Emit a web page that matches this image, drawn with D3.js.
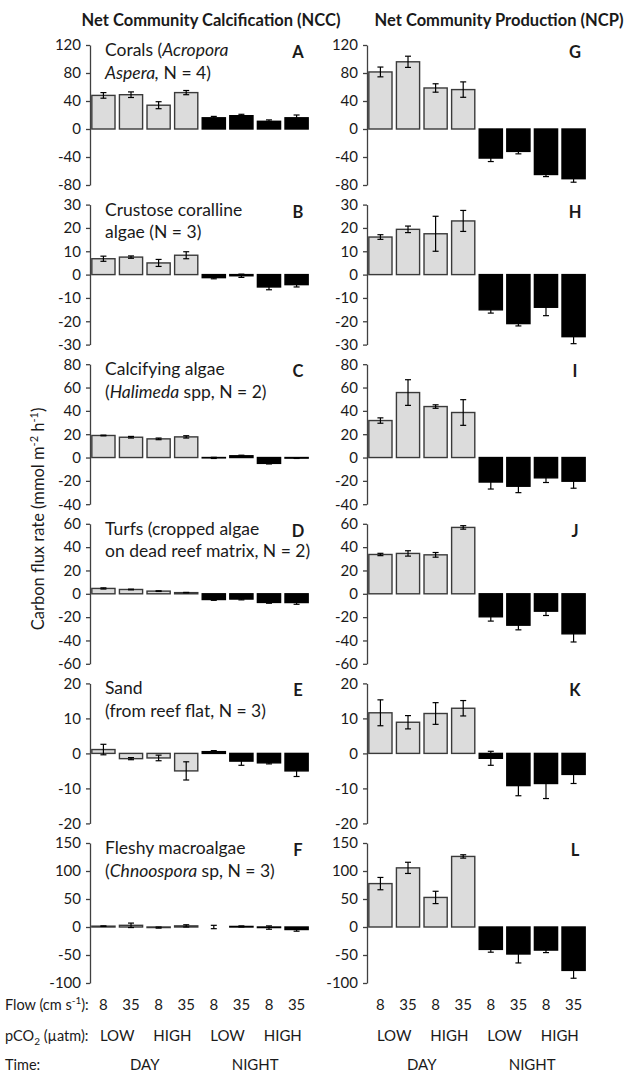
<!DOCTYPE html>
<html>
<head>
<meta charset="utf-8">
<script src="https://cdn.jsdelivr.net/npm/d3@7"></script>
<style>
body { margin: 0; background: #fff; }
text { font-family: Lato, "Open Sans", sans-serif; fill: #1a1a1a; }
</style>
</head>
<body>
<script>
var width = 630;
var height = 1073;

// categories
var flows = ["8", "35", "8", "35", "8", "35", "8", "35"];
var pco2 = ["LOW", "HIGH", "LOW", "HIGH"];
var times = ["DAY", "NIGHT"];

// NCC means and errors (left column)
var coralsNCC = [48, 49, 34, 52, 16, 19, 11, 16];
var coralsNCCErr = [4, 4, 5, 3, 2, 2, 2, 4];
var ccaNCC = [6.8, 7.5, 5, 8.3, -1.3, -0.5, -5.3, -4.3];
var ccaNCCErr = [1.1, 0.5, 1.5, 1.5, 0.5, 0.7, 1.2, 1];
var halimedaNCC = [18.9, 17.4, 16, 17.7, -0.3, 1.5, -5, -0.5];
var halimedaNCCErr = [0.3, 0.7, 0.7, 1, 0.5, 0.5, 0.5, 0.3];
var turfsNCC = [4.6, 3.7, 2.3, 1, -4.9, -4.5, -7.4, -7.5];
var turfsNCCErr = [0.5, 0.3, 0.3, 0.2, 0.7, 0.7, 0.7, 1.5];
var sandNCC = [1.1, -1.5, -1.3, -5, 0.5, -2.2, -2.7, -5];
var sandNCCErr = [1.5, 0.3, 0.8, 2.6, 0.3, 1.2, 0.3, 1.6];
var fleshyNCC = [1.5, 3, -1, 2, 0, 1, -1, -4.5];
var fleshyNCCErr = [0.5, 4, 1, 2, 3, 1, 3, 3];

// NCP means and errors (right column)
var coralsNCP = [81.5, 96, 58.6, 56.3, -41.5, -32, -65, -71];
var coralsNCPErr = [7, 8, 6, 11, 5, 3.5, 3, 5];
var ccaNCP = [16.1, 19.4, 17.5, 23, -15.1, -21, -14, -26.6];
var ccaNCPErr = [1, 1.4, 7.5, 4.5, 1.4, 1, 3.6, 3];
var halimedaNCP = [31.7, 55.7, 43.7, 38.6, -21, -24.6, -17.4, -20.3];
var halimedaNCPErr = [2.3, 11, 1.5, 11, 6, 5.5, 4, 6];
var turfsNCP = [33.7, 34.6, 33.4, 56.9, -19.7, -26.9, -14.9, -34.3];
var turfsNCPErr = [1, 2.3, 2, 1.5, 3.7, 4, 3.7, 7];
var sandNCP = [11.6, 8.9, 11.4, 12.9, -1.4, -9.2, -8.6, -6];
var sandNCPErr = [3.7, 1.9, 3.1, 2.2, 2, 2.9, 4.3, 2.6];
var fleshyNCP = [77.5, 105.6, 52.8, 126, -40, -48.2, -41.2, -77.5];
var fleshyNCPErr = [11, 10, 11, 3, 5, 16, 4.5, 14];

// axis domains and tick steps per row
var yDomains = [[-80, 120], [-30, 30], [-40, 80], [-60, 60], [-20, 20], [-100, 150]];
var yTickSteps = [40, 10, 20, 20, 10, 50];

var nccLetters = ["A", "B", "C", "D", "E", "F"];
var ncpLetters = ["G", "H", "I", "J", "K", "L"];

// annotation lines: [text, italic]
var groupLabels = [
    [[["Corals (", false], ["Acropora", true]], [["Aspera,", true], [" N = 4)", false]]],
    [[["Crustose coralline", false]], [["algae (N = 3)", false]]],
    [[["Calcifying algae", false]], [["(", false], ["Halimeda", true], [" spp, N = 2)", false]]],
    [[["Turfs (cropped algae", false]], [["on dead reef matrix, N = 2)", false]]],
    [[["Sand", false]], [["(from reef flat, N = 3)", false]]],
    [[["Fleshy macroalgae", false]], [["(", false], ["Chnoospora", true], [" sp, N = 3)", false]]]
];

var nccSeries = [[coralsNCC, coralsNCCErr], [ccaNCC, ccaNCCErr], [halimedaNCC, halimedaNCCErr],
    [turfsNCC, turfsNCCErr], [sandNCC, sandNCCErr], [fleshyNCC, fleshyNCCErr]];
var ncpSeries = [[coralsNCP, coralsNCPErr], [ccaNCP, ccaNCPErr], [halimedaNCP, halimedaNCPErr],
    [turfsNCP, turfsNCPErr], [sandNCP, sandNCPErr], [fleshyNCP, fleshyNCPErr]];

var svg = d3.select("body")
    .append("svg")
    .attr("width", width)
    .attr("height", height);

var columnX = [90, 367];
var plotW = 220;
var panelTop = 45;
var panelStep = 159.6;
var panelH = 140;

function drawPanel(x0, row, series, letter, label) {
    var top = panelTop + row * panelStep;
    var y = d3.scaleLinear().domain(yDomains[row]).range([top + panelH, top]);
    var x = d3.scaleBand().domain(d3.range(8))
        .range([x0 + 1, x0 + plotW - 1])
        .paddingInner(0.16)
        .paddingOuter(0.03);

    var dom = yDomains[row];
    var ticks = d3.range(dom[0], dom[1] + 0.001, yTickSteps[row]);
    var axis = d3.axisLeft(y).tickValues(ticks)
        .tickFormat(function(d) { return String(d); })
        .tickSize(4).tickSizeOuter(0).tickPadding(5);
    var g = svg.append("g").attr("transform", "translate(" + x0 + ",0)").call(axis);
    g.select(".domain").attr("stroke", "#404040").attr("stroke-width", 1.3);
    g.selectAll(".tick line").attr("stroke", "#404040").attr("stroke-width", 1.3);
    g.selectAll(".tick text").style("font-size", "15px").style("font-family", "Lato, sans-serif").attr("fill", "#1a1a1a");

    var vals = series[0], errs = series[1];
    var bars = svg.append("g");
    bars.selectAll("rect")
        .data(vals)
        .enter().append("rect")
        .attr("x", function(d, i) { return x(i); })
        .attr("width", x.bandwidth())
        .attr("y", function(d) { return y(Math.max(0, d)); })
        .attr("height", function(d) { return Math.abs(y(d) - y(0)); })
        .attr("fill", function(d, i) { return i < 4 ? "#dcdcdc" : "#000"; })
        .attr("stroke", function(d, i) { return i < 4 ? "#3a3a3a" : "#000"; })
        .attr("stroke-width", 1.4);

    var eb = svg.append("g").attr("stroke", "#000").attr("stroke-width", 1.2);
    vals.forEach(function(d, i) {
        var cx = x(i) + x.bandwidth() / 2;
        var e = errs[i];
        eb.append("line").attr("x1", cx).attr("x2", cx).attr("y1", y(d - e)).attr("y2", y(d + e));
        eb.append("line").attr("x1", cx - 3).attr("x2", cx + 3).attr("y1", y(d - e)).attr("y2", y(d - e));
        eb.append("line").attr("x1", cx - 3).attr("x2", cx + 3).attr("y1", y(d + e)).attr("y2", y(d + e));
    });

    svg.append("text")
        .attr("x", x0 + 208)
        .attr("y", top + 13)
        .attr("text-anchor", "middle")
        .style("font-weight", "bold")
        .style("font-size", "16.5px")
        .text(letter);

    if (label) {
        label.forEach(function(line, li) {
            var t = svg.append("text")
                .attr("x", x0 + 15)
                .attr("y", top + 11 + li * 22.5)
                .style("font-size", "17.5px");
            line.forEach(function(seg) {
                t.append("tspan").style("font-style", seg[1] ? "italic" : "normal").text(seg[0]);
            });
        });
    }
}

for (var r = 0; r < 6; r++) {
    drawPanel(columnX[0], r, nccSeries[r], nccLetters[r], groupLabels[r]);
    drawPanel(columnX[1], r, ncpSeries[r], ncpLetters[r], null);
}

// column titles
svg.append("text").attr("x", 211).attr("y", 26).attr("text-anchor", "middle")
    .style("font-weight", "bold").style("font-size", "16.5px")
    .text("Net Community Calcification (NCC)");
svg.append("text").attr("x", 499).attr("y", 26).attr("text-anchor", "middle")
    .style("font-weight", "bold").style("font-size", "16.5px")
    .text("Net Community Production (NCP)");

// y axis title
var yt = svg.append("text")
    .attr("transform", "translate(44,519) rotate(-90)")
    .attr("text-anchor", "middle")
    .style("font-size", "16.5px");
yt.append("tspan").text("Carbon flux rate (mmol m");
yt.append("tspan").attr("dy", -6).style("font-size", "11px").text("-2");
yt.append("tspan").attr("dy", 6).text(" h");
yt.append("tspan").attr("dy", -6).style("font-size", "11px").text("-1");
yt.append("tspan").attr("dy", 6).text(")");

// bottom category rows
var rowY = [1010, 1041, 1070];
var fl = svg.append("text").attr("x", 5).attr("y", rowY[0]).style("font-size", "14.5px");
fl.append("tspan").text("Flow (cm s");
fl.append("tspan").attr("dy", -6).style("font-size", "10px").text("-1");
fl.append("tspan").attr("dy", 6).text("):");
var pc = svg.append("text").attr("x", 5).attr("y", rowY[1]).style("font-size", "14.5px");
pc.append("tspan").text("pCO");
pc.append("tspan").attr("dy", 4).style("font-size", "10px").text("2");
pc.append("tspan").attr("dy", -4).text(" (\u00b5atm):");
svg.append("text").attr("x", 5).attr("y", rowY[2]).style("font-size", "14.5px").text("Time:");

columnX.forEach(function(x0) {
    var x = d3.scaleBand().domain(d3.range(8))
        .range([x0 + 1, x0 + plotW - 1])
        .paddingInner(0.16)
        .paddingOuter(0.03);
    var g = svg.append("g").style("font-size", "15px").attr("text-anchor", "middle");
    g.selectAll(".flow").data(flows).enter().append("text")
        .attr("x", function(d, i) { return x(i) + x.bandwidth() / 2; })
        .attr("y", rowY[0]).text(function(d) { return d; });
    g.selectAll(".pco").data(pco2).enter().append("text")
        .attr("x", function(d, i) { return (x(2 * i) + x(2 * i + 1) + x.bandwidth()) / 2; })
        .attr("y", rowY[1]).text(function(d) { return d; });
    g.selectAll(".time").data(times).enter().append("text")
        .attr("x", function(d, i) { return (x(4 * i) + x(4 * i + 3) + x.bandwidth()) / 2; })
        .attr("y", rowY[2]).text(function(d) { return d; });
});
</script>
</body>
</html>
